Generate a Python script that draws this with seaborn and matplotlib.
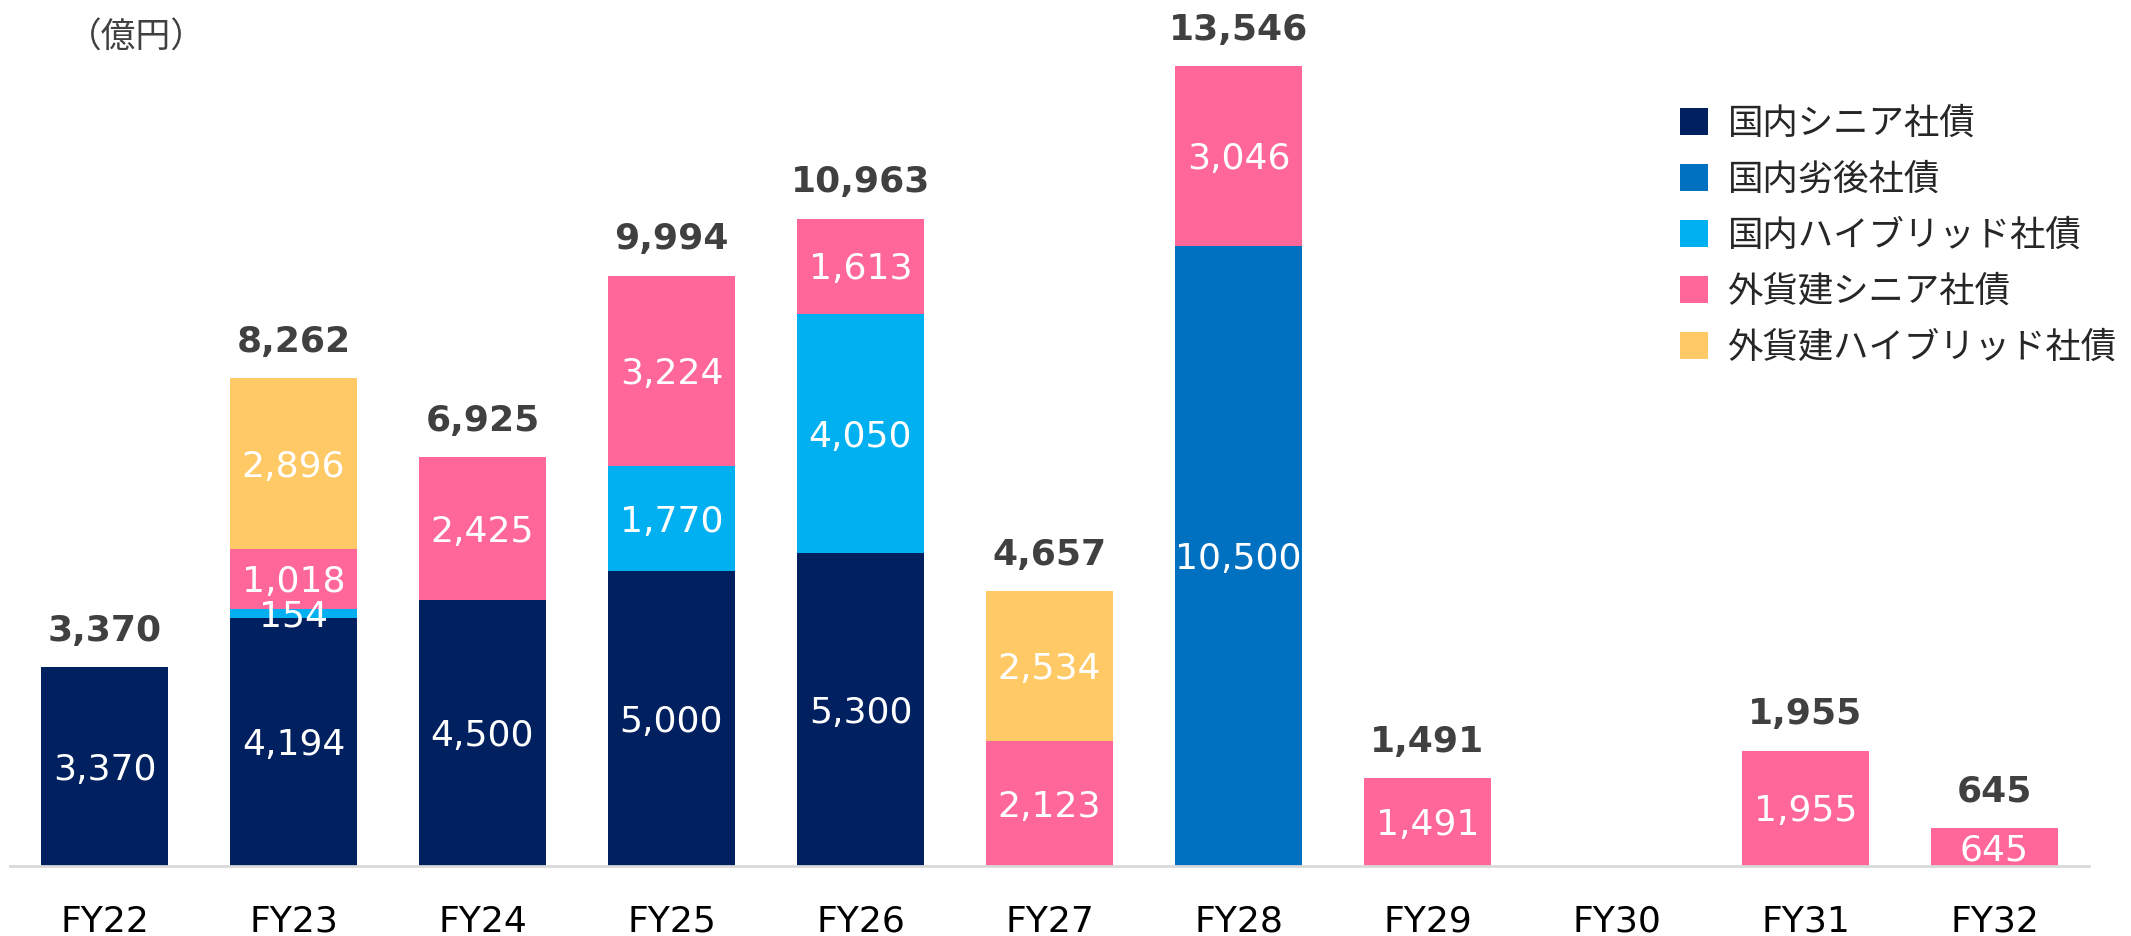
import numpy as np
import pandas as pd
import matplotlib
matplotlib.use("Agg")
import matplotlib.pyplot as plt
from matplotlib.patches import Patch
import seaborn as sb

# data (億円)
years = ["FY22", "FY23", "FY24", "FY25", "FY26", "FY27", "FY28", "FY29", "FY30", "FY31", "FY32"]
series_names = ["国内シニア社債", "国内劣後社債", "国内ハイブリッド社債", "外貨建シニア社債", "外貨建ハイブリッド社債"]
dom_senior = [3370, 4194, 4500, 5000, 5300, 0, 0, 0, 0, 0, 0]
dom_sub = [0, 0, 0, 0, 0, 0, 10500, 0, 0, 0, 0]
dom_hybrid = [0, 154, 0, 1770, 4050, 0, 0, 0, 0, 0, 0]
fx_senior = [0, 1018, 2425, 3224, 1613, 2123, 3046, 1491, 0, 1955, 645]
fx_hybrid = [0, 2896, 0, 0, 0, 2534, 0, 0, 0, 0, 0]
colors = ["#002060", "#0070C0", "#00B0F0", "#FF6699", "#FFC966"]

layers = [dom_senior, dom_sub, dom_hybrid, fx_senior, fx_hybrid]

sb.set_style("white")
# Verdana-like latin + CJK fallback
plt.rcParams["font.family"] = ["DejaVu Sans", "Noto Sans CJK JP"]

W, H = 2131, 936
fig = plt.figure(figsize=(W / 100, H / 100), dpi=100)
ax = fig.add_axes([10 / W, (H - 866) / H, 2079 / W, 866 / H])

bottom = np.zeros(len(years))
for name, vals, col in zip(series_names, layers, colors):
    df = pd.DataFrame({"year": years, "value": vals})
    sb.barplot(data=df, x="year", y="value", order=years, color=col,
               bottom=bottom.copy(), width=0.667, linewidth=0, saturation=1,
               errorbar=None, ax=ax)
    for i, v in enumerate(vals):
        if v > 0:
            ax.annotate(f"{v:,}", (i, bottom[i] + v / 2), xytext=(0, -9.5),
                        textcoords="offset points", ha="center", va="baseline",
                        color="white", fontsize=26)
    bottom += np.array(vals)

# totals
for i, t in enumerate(bottom):
    if t > 0:
        ax.annotate(f"{int(t):,}", (i, t), xytext=(0, 19), textcoords="offset points",
                    ha="center", va="baseline", color="#404040", fontsize=26,
                    fontweight="bold")

ax.set_xlim(-0.5, len(years) - 0.5)
ax.set_ylim(0, 14663)
ax.set_xlabel("")
ax.set_ylabel("")
ax.set_yticks([])
ax.tick_params(axis="x", length=0, pad=28, labelsize=26, labelcolor="black")
for s in ["top", "right", "left"]:
    ax.spines[s].set_visible(False)
ax.spines["bottom"].set_color("#D9D9D9")
ax.spines["bottom"].set_linewidth(2)

fig.text(136 / W, 1 - 38 / H, "（億円）", ha="center", va="center",
         fontsize=25, color="#404040")

handles = [Patch(facecolor=c, edgecolor="none") for c in colors]
fig.legend(handles, series_names, loc="upper left", bbox_to_anchor=(1680 / W, 1 - 107 / H),
           frameon=False, fontsize=25.5, handlelength=0.79, handleheight=0.79,
           handletextpad=0.55, labelspacing=0.62, borderpad=0, borderaxespad=0)

plt.savefig("out.png", dpi=100)
